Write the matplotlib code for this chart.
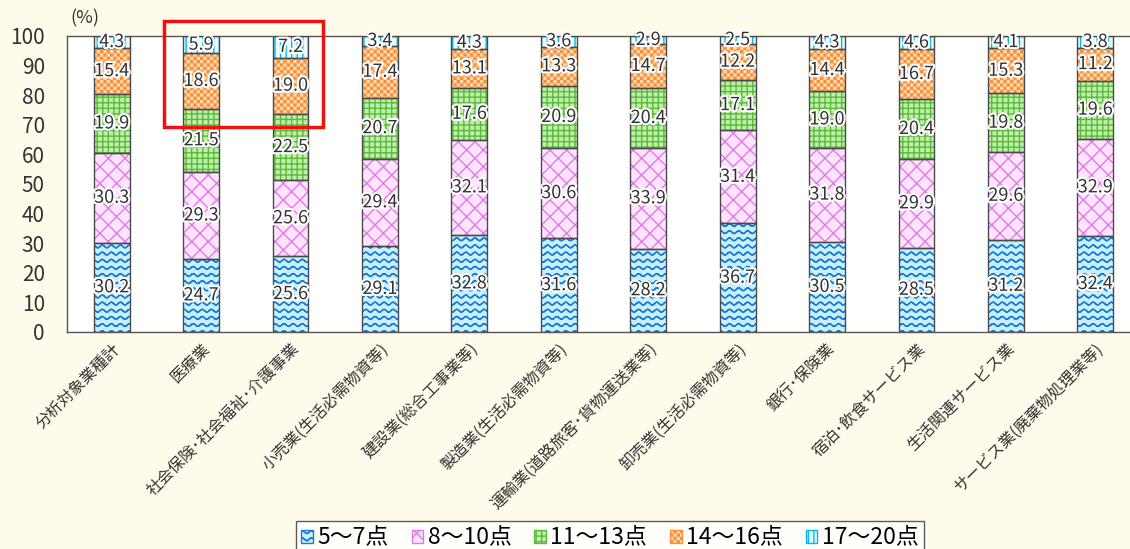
import warnings
import numpy as np
import matplotlib
matplotlib.use("Agg")
import matplotlib.pyplot as plt
import matplotlib.hatch as mhatch
import matplotlib.patheffects as pe
from matplotlib.path import Path
from matplotlib.patches import Rectangle, Patch

warnings.filterwarnings("ignore")

industries = [
    "分析対象業種計",
    "医療業",
    "社会保険･社会福祉･介護事業",
    "小売業(生活必需物資等)",
    "建設業(総合工事業等)",
    "製造業(生活必需物資等)",
    "運輸業(道路旅客･貨物運送業等)",
    "卸売業(生活必需物資等)",
    "銀行･保険業",
    "宿泊･飲食サービス業",
    "生活関連サービス業",
    "サービス業(廃棄物処理業等)",
]
score_groups = ["5～7点", "8～10点", "11～13点", "14～16点", "17～20点"]

pts_5_7 = [30.2, 24.7, 25.6, 29.1, 32.8, 31.6, 28.2, 36.7, 30.5, 28.5, 31.2, 32.4]
pts_8_10 = [30.3, 29.3, 25.6, 29.4, 32.1, 30.6, 33.9, 31.4, 31.8, 29.9, 29.6, 32.9]
pts_11_13 = [19.9, 21.5, 22.5, 20.7, 17.6, 20.9, 20.4, 17.1, 19.0, 20.4, 19.8, 19.6]
pts_14_16 = [15.4, 18.6, 19.0, 17.4, 13.1, 13.3, 14.7, 12.2, 14.4, 16.7, 15.3, 11.2]
pts_17_20 = [4.3, 5.9, 7.2, 3.4, 4.3, 3.6, 2.9, 2.5, 4.3, 4.6, 4.1, 3.8]

series = [pts_5_7, pts_8_10, pts_11_13, pts_14_16, pts_17_20]
face_colors = ["#c9efff", "#ffe3ff", "#bdf0a8", "#ffd9b3", "#e9fbff"]
hatch_colors = ["#1a7fd4", "#e07ae6", "#5fb83e", "#f7923a", "#00b8f0"]
hatches = ["~", "xx", "+++", "#", "|||"]


# extra hatch styles: '~' wavy rows, '#' small checkerboard
class WaveHatch(mhatch.HatchPatternBase):
    def __init__(self, hatch, density):
        self.num_rows = hatch.count("~") * 14
        self.npts = 89
        self.num_vertices = self.num_rows * self.npts * 2

    def set_vertices_and_codes(self, vertices, codes):
        n = self.npts
        x = np.linspace(0.0, 1.0, n)
        wave = 0.014 * np.sin(2 * np.pi * 11 * x)
        for i in range(self.num_rows):
            y = (i + 0.5) / self.num_rows + wave
            # out and back along the same curve so the fill pass adds nothing
            seg = slice(2 * n * i, 2 * n * (i + 1))
            vertices[seg, 0] = np.concatenate([x, x[::-1]])
            vertices[seg, 1] = np.concatenate([y, y[::-1]])
            codes[seg] = Path.LINETO
            codes[2 * n * i] = Path.MOVETO


class CheckerHatch(mhatch.HatchPatternBase):
    def __init__(self, hatch, density):
        self.cells = hatch.count("#") * 30
        self.squares = [(i, j) for i in range(self.cells)
                        for j in range(self.cells) if (i + j) % 2 == 0]
        self.num_vertices = len(self.squares) * 5

    def set_vertices_and_codes(self, vertices, codes):
        c = 1.0 / self.cells
        d = 0.2 * c
        for k, (i, j) in enumerate(self.squares):
            x0, x1 = i * c + d, (i + 1) * c - d
            y0, y1 = j * c + d, (j + 1) * c - d
            vertices[5 * k:5 * k + 5] = [(x0, y0), (x1, y0), (x1, y1), (x0, y1), (x0, y0)]
            codes[5 * k] = Path.MOVETO
            codes[5 * k + 1:5 * k + 4] = Path.LINETO
            codes[5 * k + 4] = Path.CLOSEPOLY


mhatch._hatch_types.extend([WaveHatch, CheckerHatch])

plt.rcParams["font.family"] = ["Noto Sans CJK JP", "DejaVu Sans"]
plt.rcParams["hatch.linewidth"] = 1.0

W, H = 1130, 549
fig = plt.figure(figsize=(W / 100, H / 100), dpi=100, facecolor="#fefbea")
ax = fig.add_axes([67 / W, 217 / H, (1140 - 67) / W, 296 / H])
ax.set_facecolor("white")

x = np.arange(len(industries))
bar_w = 0.4
bottom = np.zeros(len(industries))
for vals, fc, hc, h in zip(series, face_colors, hatch_colors, hatches):
    vals = np.array(vals)
    ax.bar(x, vals, bar_w, bottom=bottom, color=fc, edgecolor=hc, hatch=h,
           linewidth=0, zorder=2)
    ax.bar(x, vals, bar_w, bottom=bottom, fill=False, edgecolor="#4a4a4a",
           linewidth=1.0, zorder=3)
    for xi, b, v in zip(x, bottom, vals):
        ax.text(xi, b + v / 2, f"{v:.1f}", ha="center", va="center",
                fontsize=13, color="#333333", zorder=4,
                path_effects=[pe.withStroke(linewidth=3, foreground="white")])
    bottom += vals

ax.set_xlim(-0.5, len(industries) - 0.5)
ax.set_ylim(0, 100)
ax.set_yticks(np.arange(0, 101, 10))
ax.tick_params(axis="y", length=0, pad=16, labelsize=15, labelcolor="#333333")
ax.set_xticks(x)
ax.set_xticklabels(industries, rotation=45, ha="right", rotation_mode="anchor",
                   fontsize=11.5, color="#333333")
ax.tick_params(axis="x", length=0, pad=6)
for side in ["left", "top", "bottom", "right"]:
    ax.spines[side].set_color("#555555")
    ax.spines[side].set_linewidth(1.0)

fig.text(85 / W, 1 - 18 / H, "(%)", ha="center", va="center", fontsize=13,
         color="#333333")

# highlight box around the two care-related industries
fig.patches.append(Rectangle((164 / W, 1 - 127 / H), (323 - 164) / W, (127 - 21) / H,
                             transform=fig.transFigure, fill=False,
                             edgecolor="#ee1111", linewidth=2.5))

# small bordered swatches for the legend
handles = [Patch(facecolor=fc, edgecolor=hc, hatch=h, linewidth=1.0, label=name)
           for name, fc, hc, h in zip(score_groups, face_colors, hatch_colors, hatches)]
leg = fig.legend(handles=handles, loc="upper center", bbox_to_anchor=(610 / W, 1 - 521 / H),
                 ncol=5, fontsize=16.5, frameon=True, fancybox=False, edgecolor="#333333",
                 handlelength=0.5, handleheight=0.5, handletextpad=0.2,
                 columnspacing=1.0, borderpad=0.25, borderaxespad=0)
leg.get_frame().set_linewidth(1.0)
leg.get_frame().set_facecolor("white")

fig.savefig("out.png", dpi=100, facecolor=fig.get_facecolor())
